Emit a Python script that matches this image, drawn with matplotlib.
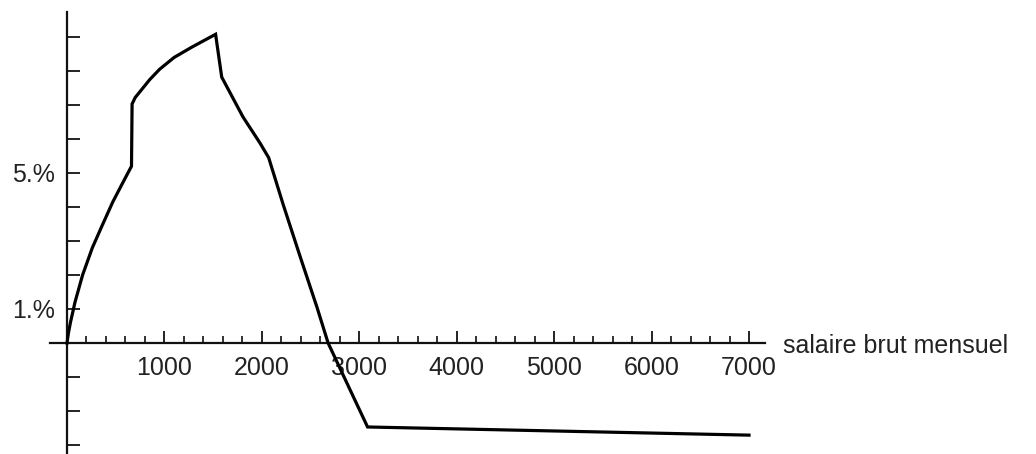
import matplotlib
matplotlib.use("Agg")
import matplotlib.pyplot as plt
from matplotlib.ticker import FixedLocator, NullFormatter

# --- data ---
salaire = [0, 15, 35, 82, 160, 260, 360, 470, 570, 662, 668, 700, 850, 950, 1100,
           1280, 1525, 1588, 1806, 1981, 2070, 2218, 2392, 2567, 2680, 2906, 3085, 7000]
taux = [0, 0.3, 0.6, 1.2, 2.0, 2.8, 3.45, 4.15, 4.7, 5.2, 7.03, 7.22, 7.75, 8.05, 8.4,
        8.7, 9.08, 7.82, 6.65, 5.88, 5.45, 4.08, 2.55, 1.04, 0, -1.38, -2.47, -2.71]

x_ticks = [1000, 2000, 3000, 4000, 5000, 6000, 7000]
x_ticklabels = ["1000", "2000", "3000", "4000", "5000", "6000", "7000"]
y_ticks = [-3, -2, -1, 1, 2, 3, 4, 5, 6, 7, 8, 9]
y_labeled = {1: "1.%", 5: "5.%"}
x_label = "salaire brut mensuel"

plt.rcParams['font.family'] = ['Liberation Sans', 'DejaVu Sans']
FS = 18

fig = plt.figure(figsize=(10.36, 4.54), dpi=100)
ax = fig.add_axes([0, 0, 1, 1])
ax.set_facecolor("white")

# pixel mapping: x=0 at 67px, 97.43 px per 1000; y=0 at 343px, 34 px per 1%
ax.set_xlim(-67 / 0.09743, (1036 - 67) / 0.09743)
ax.set_ylim(-(454 - 343) / 34, 343 / 34)

ax.plot(salaire, taux, color="black", lw=2.3, solid_joinstyle="miter", zorder=3)

for s in ["top", "right"]:
    ax.spines[s].set_visible(False)
ax.spines["left"].set_position(("data", 0))
ax.spines["bottom"].set_position(("data", 0))
ax.spines["left"].set_bounds(-3.4, 9.74)
ax.spines["bottom"].set_bounds(-175, 7160)
for s in ["left", "bottom"]:
    ax.spines[s].set_linewidth(1.6)
    ax.spines[s].set_color("#111111")

ax.xaxis.set_major_locator(FixedLocator(x_ticks))
ax.set_xticklabels(x_ticklabels)
ax.xaxis.set_minor_locator(FixedLocator([v for v in range(200, 7000, 200) if v % 1000]))
ax.xaxis.set_minor_formatter(NullFormatter())
ax.tick_params(axis="x", which="major", direction="in", length=9, width=1.3,
               labelsize=FS, pad=9.2, colors="#111111", labelcolor="#222222")
ax.tick_params(axis="x", which="minor", direction="in", length=5, width=1.2,
               colors="#111111")

ax.yaxis.set_major_locator(FixedLocator(y_ticks))
ax.set_yticklabels([y_labeled.get(v, "") for v in y_ticks])
ax.tick_params(axis="y", which="major", direction="in", length=9, width=1.3,
               labelsize=FS, pad=8.6, colors="#111111", labelcolor="#222222")

ax.text(7349, -0.29, x_label, fontsize=FS, color="#222222",
        ha="left", va="baseline")

fig.savefig("out.png", dpi=100, facecolor="white")
